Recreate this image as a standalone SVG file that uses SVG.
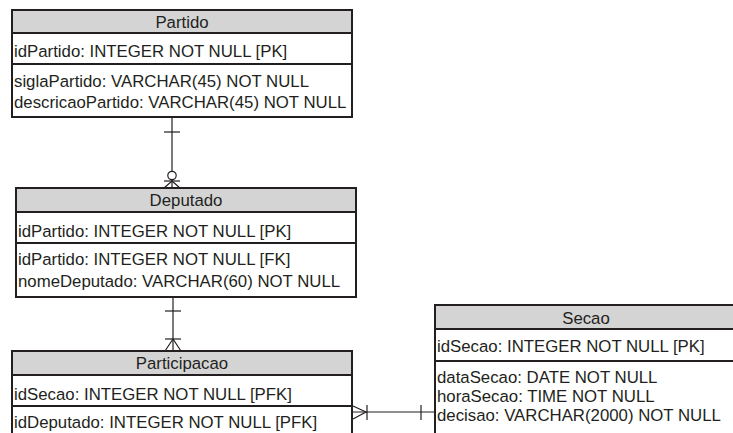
<svg xmlns="http://www.w3.org/2000/svg" width="733" height="433" viewBox="0 0 733 433">
<style>
.box{fill:#ffffff;stroke:#231f20;stroke-width:2}
.hdr{fill:#d4d4d4;stroke:#231f20;stroke-width:2}
.sep{stroke:#231f20;stroke-width:2}
text{font-family:"Liberation Sans",Arial,sans-serif;font-size:16.8px;fill:#231f20}
.title{text-anchor:middle}
.conn line,.conn path{stroke:#231f20;stroke-width:1.2;fill:none}
.conn circle{stroke:#231f20;stroke-width:1.2;fill:#ffffff}
</style>
<rect width="733" height="433" fill="#ffffff"/>
<g id="connectors" class="conn">
  <line x1="172" y1="117" x2="172" y2="188"/>
  <line x1="164" y1="132" x2="180" y2="132"/>
  <circle cx="172" cy="175.5" r="4.2"/>
  <line x1="164" y1="181" x2="180" y2="181"/>
  <path d="M164,188 L172,181 L180,188"/>
  <line x1="173" y1="297" x2="173" y2="351"/>
  <line x1="165" y1="311" x2="181" y2="311"/>
  <line x1="165" y1="339" x2="181" y2="339"/>
  <path d="M165,351 L173,339 L181,351"/>
  <line x1="352" y1="412" x2="435" y2="412"/>
  <path d="M353,406 L366,412 L353,419"/>
  <line x1="367" y1="405" x2="367" y2="420"/>
  <line x1="421" y1="405" x2="421" y2="420"/>
</g>
<g id="partido">
  <rect class="box" x="12" y="10" width="340" height="107"/>
  <rect class="hdr" x="12" y="10" width="340" height="23"/>
  <line class="sep" x1="12" y1="64" x2="352" y2="64"/>
  <text class="title" x="182" y="28">Partido</text>
  <text x="14" y="57">idPartido: INTEGER NOT NULL [PK]</text>
  <text x="14" y="87">siglaPartido: VARCHAR(45) NOT NULL</text>
  <text x="14" y="108">descricaoPartido: VARCHAR(45) NOT NULL</text>
</g>
<g id="deputado">
  <rect class="box" x="16" y="188" width="340" height="109"/>
  <rect class="hdr" x="16" y="188" width="340" height="24"/>
  <line class="sep" x1="16" y1="243" x2="356" y2="243"/>
  <text class="title" x="186" y="206">Deputado</text>
  <text x="18" y="237">idPartido: INTEGER NOT NULL [PK]</text>
  <text x="18" y="265">idPartido: INTEGER NOT NULL [FK]</text>
  <text x="18" y="287">nomeDeputado: VARCHAR(60) NOT NULL</text>
</g>
<g id="participacao">
  <rect class="box" x="12" y="351" width="340" height="100"/>
  <rect class="hdr" x="12" y="351" width="340" height="24"/>
  <line class="sep" x1="12" y1="406" x2="352" y2="406"/>
  <text class="title" x="182" y="369">Participacao</text>
  <text x="14" y="400">idSecao: INTEGER NOT NULL [PFK]</text>
  <text x="14" y="428">idDeputado: INTEGER NOT NULL [PFK]</text>
</g>
<g id="secao">
  <rect class="box" x="435" y="305" width="310" height="140"/>
  <rect class="hdr" x="435" y="305" width="310" height="24"/>
  <line class="sep" x1="435" y1="361" x2="745" y2="361"/>
  <text class="title" x="586" y="324">Secao</text>
  <text x="437" y="352">idSecao: INTEGER NOT NULL [PK]</text>
  <text x="437" y="383">dataSecao: DATE NOT NULL</text>
  <text x="437" y="402">horaSecao: TIME NOT NULL</text>
  <text x="437" y="421">decisao: VARCHAR(2000) NOT NULL</text>
</g>
</svg>
